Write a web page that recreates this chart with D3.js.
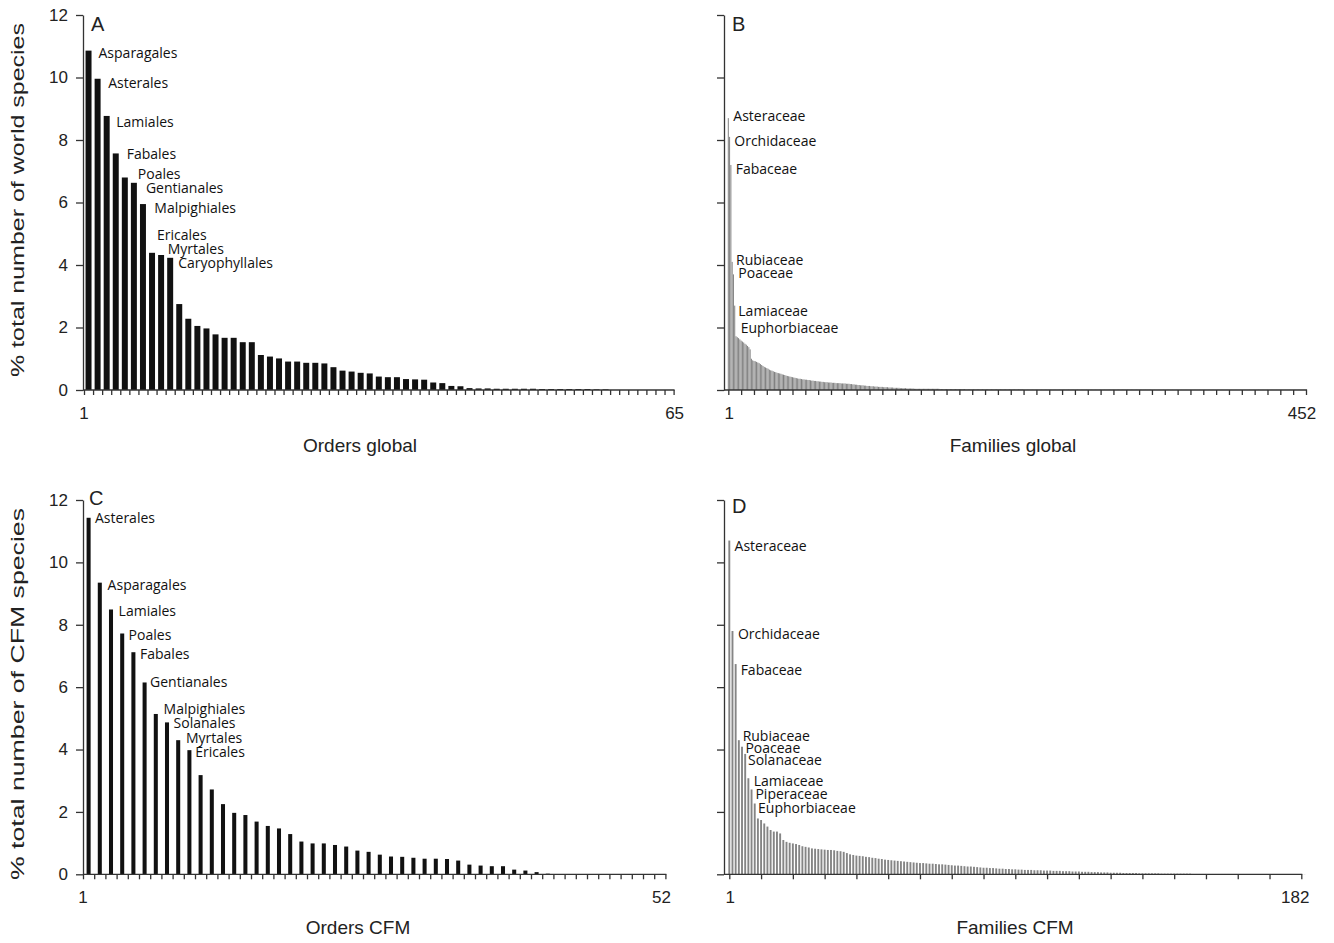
<!DOCTYPE html>
<html>
<head>
<meta charset="utf-8">
<script src="https://cdn.jsdelivr.net/npm/d3@7/dist/d3.min.js"></script>
<style>
  body { margin: 0; background: #fff; }
  svg text { font-family: "Liberation Sans", Arial, sans-serif; fill: #222; }
  svg text.lab { font-family: "Open Sans", sans-serif; font-size: 14px; fill: #111; }
  .axis path, .axis line { stroke: #333; stroke-width: 1.3; }
</style>
</head>
<body>
<svg id="chart" width="1334" height="943"></svg>
<script>
// ---- data ----
var yTicks = [0, 2, 4, 6, 8, 10, 12];

// A: orders, % of world species
var ordersGlobalNames = ["Asparagales", "Asterales", "Lamiales", "Fabales", "Poales",
  "Gentianales", "Malpighiales", "Ericales", "Myrtales", "Caryophyllales"];
var ordersGlobal = [
  10.86, 9.96, 8.77, 7.57, 6.8, 6.63, 5.95, 4.39, 4.32, 4.23,
  2.75, 2.28, 2.05, 1.97, 1.78, 1.67, 1.67, 1.53, 1.53, 1.12,
  1.07, 1.01, 0.91, 0.91, 0.87, 0.87, 0.85, 0.73, 0.62, 0.59,
  0.55, 0.53, 0.43, 0.41, 0.41, 0.35, 0.34, 0.33, 0.24, 0.22,
  0.13, 0.12, 0.06, 0.05, 0.05, 0.04, 0.04, 0.04, 0.04, 0.04,
  0.03, 0.03, 0.03, 0.03, 0.03, 0.03, 0.02, 0.02, 0, 0,
  0, 0, 0, 0, 0];

// B: families, % of world species
var familiesGlobalNames = ["Asteraceae", "Orchidaceae", "Fabaceae", "Rubiaceae", "Poaceae",
  "Lamiaceae", "Euphorbiaceae"];
var familiesGlobal = [
  8.7, 8.1, 7.2, 4.1, 3.7, 2.7, 1.72, 1.69, 1.66, 1.62,
  1.58, 1.55, 1.52, 1.48, 1.45, 1.41, 1.37, 1.3, 1.0, 0.95,
  0.93, 0.92, 0.9, 0.88, 0.86, 0.83, 0.8, 0.77, 0.74, 0.72,
  0.7, 0.68, 0.65, 0.63, 0.62, 0.6, 0.58, 0.57, 0.55, 0.54,
  0.53, 0.52, 0.5, 0.49, 0.48, 0.46, 0.45, 0.44, 0.43, 0.42,
  0.41, 0.4, 0.39, 0.38, 0.37, 0.36, 0.36, 0.35, 0.34, 0.34,
  0.33, 0.33, 0.32, 0.32, 0.31, 0.3, 0.3, 0.29, 0.29, 0.28,
  0.28, 0.27, 0.27, 0.26, 0.26, 0.25, 0.25, 0.25, 0.24, 0.24,
  0.24, 0.23, 0.23, 0.23, 0.22, 0.22, 0.22, 0.22, 0.21, 0.21,
  0.21, 0.21, 0.2, 0.2, 0.2, 0.19, 0.19, 0.18, 0.18, 0.17,
  0.17, 0.16, 0.16, 0.15, 0.15, 0.15, 0.14, 0.14, 0.13, 0.13,
  0.13, 0.12, 0.12, 0.12, 0.11, 0.11, 0.11, 0.1, 0.1, 0.1,
  0.1, 0.09, 0.09, 0.09, 0.09, 0.08, 0.08, 0.08, 0.08, 0.07,
  0.07, 0.07, 0.07, 0.07, 0.06, 0.06, 0.06, 0.06, 0.06, 0.05,
  0.05, 0.05, 0.05, 0.05, 0.05, 0.04, 0.04, 0.04, 0.04, 0.04,
  0.04, 0.04, 0.04, 0.04, 0.04, 0.04, 0.04, 0.04, 0.04, 0.04,
  0.04, 0.04, 0.04, 0.04, 0.04, 0.03, 0.03, 0.03, 0.03, 0.03,
  0.03, 0.03, 0.03, 0.03, 0.03, 0.03, 0.03, 0.03, 0.03, 0.03,
  0.03, 0.03, 0.03, 0.03, 0.03, 0.02, 0.02, 0.02, 0.02, 0.02,
  0.02, 0.02, 0.02, 0.02, 0.02, 0.02, 0.02, 0.02, 0.02, 0.02,
  0.02, 0.02, 0.02, 0.02, 0.02, 0.02, 0.02, 0.02, 0.02, 0.02,
  0.02, 0.02, 0.02, 0.02, 0.02, 0.02, 0.02, 0.02, 0.02, 0.02,
  0.02, 0.02, 0.02, 0.02, 0.02, 0.02, 0.02, 0.02, 0.02, 0.02,
  0.01, 0.01, 0.01, 0.01, 0.01, 0.01, 0.01, 0.01, 0.01, 0.01,
  0.01, 0.01, 0.01, 0.01, 0.01, 0.01, 0.01, 0.01, 0.01, 0.01,
  0.01, 0.01, 0.01, 0.01, 0.01, 0.01, 0.01, 0.01, 0.01, 0.01,
  0.01, 0.01, 0.01, 0.01, 0.01, 0.01, 0.01, 0.01, 0.01, 0.01,
  0.01, 0.01, 0.01, 0.01, 0.01, 0.01, 0.01, 0.01, 0.01, 0.01,
  0.01, 0.01, 0.01, 0.01, 0.01, 0.01, 0.01, 0.01, 0.01, 0.01,
  0.01, 0.01, 0.01, 0.01, 0.01, 0.01, 0.01, 0.01, 0.01, 0.01,
  0.01, 0.01, 0.01, 0.01, 0.01, 0.01, 0.01, 0.01, 0.01, 0.01,
  0.01, 0.01, 0.01, 0.01, 0.01, 0.01, 0.01, 0.01, 0.01, 0.01,
  0.01, 0.01, 0.01, 0.01, 0.01, 0.01, 0.01, 0.01, 0.01, 0.01,
  0.005, 0.005, 0.005, 0.005, 0.005, 0.005, 0.005, 0.005, 0.005, 0.005,
  0.005, 0.005, 0.005, 0.005, 0.005, 0.005, 0.005, 0.005, 0.005, 0.005,
  0.005, 0.005, 0.005, 0.005, 0.005, 0.005, 0.005, 0.005, 0.005, 0.005,
  0.005, 0.005, 0.005, 0.005, 0.005, 0.005, 0.005, 0.005, 0.005, 0.005,
  0.005, 0.005, 0.005, 0.005, 0.005, 0.005, 0.005, 0.005, 0.005, 0.005,
  0.005, 0.005, 0.005, 0.005, 0.005, 0.005, 0.005, 0.005, 0.005, 0.005,
  0.005, 0.005, 0.005, 0.005, 0.005, 0.005, 0.005, 0.005, 0.005, 0.005,
  0.005, 0.005, 0.005, 0.005, 0.005, 0.005, 0.005, 0.005, 0.005, 0.005,
  0.005, 0.005, 0.005, 0.005, 0.005, 0.005, 0.005, 0.005, 0.005, 0.005,
  0.005, 0.005, 0.005, 0.005, 0.005, 0.005, 0.005, 0.005, 0.005, 0.005,
  0.005, 0.005, 0.005, 0.005, 0.005, 0.005, 0.005, 0.005, 0.005, 0.005,
  0.005, 0.005, 0.005, 0.005, 0.005, 0.005, 0.005, 0.005, 0.005, 0.005,
  0.005, 0.005];

// C: orders, % of CFM species
var ordersCfmNames = ["Asterales", "Asparagales", "Lamiales", "Poales", "Fabales",
  "Gentianales", "Malpighiales", "Solanales", "Myrtales", "Ericales"];
var ordersCfm = [
  11.43, 9.35, 8.49, 7.72, 7.12, 6.15, 5.14, 4.87, 4.3, 3.98,
  3.18, 2.72, 2.25, 1.97, 1.9, 1.69, 1.55, 1.47, 1.29, 1.05,
  0.99, 0.99, 0.94, 0.89, 0.76, 0.72, 0.63, 0.57, 0.56, 0.53,
  0.5, 0.5, 0.49, 0.44, 0.31, 0.28, 0.26, 0.26, 0.15, 0.12,
  0.07, 0.02, 0, 0, 0, 0, 0, 0, 0, 0,
  0, 0];

// D: families, % of CFM species
var familiesCfmNames = ["Asteraceae", "Orchidaceae", "Fabaceae", "Rubiaceae", "Poaceae",
  "Solanaceae", "Lamiaceae", "Piperaceae", "Euphorbiaceae"];
var familiesCfm = [
  10.7, 7.8, 6.74, 4.3, 4.09, 3.86, 3.08, 2.72, 2.27, 1.79,
  1.74, 1.63, 1.53, 1.42, 1.37, 1.37, 1.31, 1.1, 1.04, 1.01,
  0.99, 0.97, 0.94, 0.9, 0.88, 0.86, 0.83, 0.82, 0.81, 0.8,
  0.79, 0.78, 0.78, 0.77, 0.75, 0.74, 0.72, 0.68, 0.64, 0.62,
  0.6, 0.59, 0.58, 0.56, 0.55, 0.53, 0.52, 0.5, 0.49, 0.47,
  0.46, 0.45, 0.44, 0.43, 0.42, 0.41, 0.4, 0.39, 0.38, 0.37,
  0.36, 0.36, 0.35, 0.34, 0.34, 0.33, 0.32, 0.32, 0.31, 0.3,
  0.29, 0.28, 0.28, 0.27, 0.26, 0.25, 0.25, 0.24, 0.23, 0.22,
  0.21, 0.21, 0.2, 0.2, 0.19, 0.18, 0.18, 0.17, 0.17, 0.16,
  0.16, 0.15, 0.15, 0.14, 0.14, 0.14, 0.13, 0.13, 0.13, 0.12,
  0.12, 0.12, 0.11, 0.11, 0.11, 0.1, 0.1, 0.1, 0.09, 0.09,
  0.09, 0.08, 0.08, 0.08, 0.07, 0.07, 0.07, 0.06, 0.06, 0.06,
  0.05, 0.05, 0.05, 0.05, 0.04, 0.04, 0.04, 0.04, 0.04, 0.03,
  0.03, 0.03, 0.03, 0.03, 0.03, 0.03, 0.02, 0.02, 0.02, 0.02,
  0.02, 0.02, 0.02, 0.02, 0.02, 0.02, 0.01, 0.01, 0.01, 0.01,
  0.01, 0.01, 0.01, 0.01, 0.01, 0.01, 0.01, 0.01, 0.01, 0.01,
  0.005, 0.005, 0.005, 0.005, 0.005, 0.005, 0.005, 0.005, 0.005, 0.005,
  0.005, 0.005, 0.005, 0.005, 0.005, 0.005, 0.005, 0.005, 0.005, 0.005,
  0.005, 0.005];

// ---- layout ----
var svg = d3.select("#chart");

var panels = [
  { letter: "A", values: ordersGlobal, names: ordersGlobalNames, kind: "band",
    axisX: 83, x0: 84, x1: 673.6, yTop: 15, yBot: 390, pad: 0.34, fill: "#111",
    yLabels: true, lastLabel: "65", lastDx: 1, title: "Orders global", titleX: 360, titleY: 452,
    letterX: 91, letterY: 31,
    dx: [7, 7.6, 6.6, 8, 10, 9, 8.4, 2, 3.6, 5],
    dy: [2.3, 4, 6, 1, -3, 5.6, 4.3, -17.7, -5.7, 5] },
  { letter: "B", values: familiesGlobal, names: familiesGlobalNames, kind: "linear",
    axisX: 724, x0: 728.3, x1: 1306, tickEnd: 451, yTop: 15, yBot: 390, barW: 1, fill: "#808080",
    yLabels: false, lastLabel: "452", lastDx: -4, title: "Families global", titleX: 1013, titleY: 452,
    letterX: 732, letterY: 31,
    dx: [5, 4.7, 4.8, 3.9, 4.9, 3.6, 4.7],
    dy: [-1.6, 4, 3.7, -1.7, -1.7, 5.3, -8] },
  { letter: "C", values: ordersCfm, names: ordersCfmNames, kind: "band",
    axisX: 83, x0: 83, x1: 665.4, yTop: 500, yBot: 874.3, pad: 0.64, fill: "#111",
    yLabels: true, lastLabel: "52", lastDx: -4, title: "Orders CFM", titleX: 358, titleY: 934,
    letterX: 89, letterY: 505,
    dx: [4.4, 5.8, 5.6, 4.4, 4.6, 3.4, 5.8, 4.6, 5.8, 3.9],
    dy: [0, 2.3, 1.4, 1.7, 1.7, 0, -4.7, 1, -1.7, 1.7] },
  { letter: "D", values: familiesCfm, names: familiesCfmNames, kind: "linear",
    axisX: 724, x0: 729.3, x1: 1301.3, tickEnd: 181, yTop: 500, yBot: 874.3, barW: 1.9, fill: "#858585",
    yLabels: false, lastLabel: "182", lastDx: -6, title: "Families CFM", titleX: 1015, titleY: 934,
    letterX: 732, letterY: 513,
    dx: [5.3, 5.4, 5, 3.8, 3.4, 2.8, 5.4, 3.9, 3.3],
    dy: [5.7, 2.6, 6, -4, 1.6, 6, 2.7, 5, 5] }
];

panels.forEach(function(p) {
  var g = svg.append("g");
  var n = p.values.length;
  var y = d3.scaleLinear().domain([0, 12]).range([p.yBot, p.yTop]);
  var x, barX, barW, xTick, tickVals;

  if (p.kind === "band") {
    x = d3.scaleBand().domain(d3.range(1, n + 1)).range([p.x0, p.x1])
      .paddingInner(p.pad).paddingOuter(p.pad / 2);
    barW = x.bandwidth();
    barX = function(d, i) { return x(i + 1); };
    xTick = d3.scaleLinear().domain([0, n]).range([p.x0, p.x1]);
    tickVals = d3.range(0, n + 1);
  } else {
    x = d3.scaleLinear().domain([1, p.tickEnd]).range([p.x0, p.x1]);
    barW = p.barW;
    barX = function(d, i) { return x(i + 1) - barW / 2; };
    xTick = x;
    tickVals = d3.range(1, p.tickEnd + 1, 10);
  }

  // bars
  g.selectAll(".bar").data(p.values).enter().append("rect")
    .attr("class", "bar")
    .attr("x", barX)
    .attr("y", function(d) { return y(d); })
    .attr("width", barW)
    .attr("height", function(d) { return y(0) - y(d); })
    .attr("fill", p.fill);

  // y axis
  var yAxis = d3.axisLeft(y).tickValues(yTicks).tickSize(7).tickSizeOuter(0).tickPadding(8)
    .tickFormat(p.yLabels ? d3.format("d") : "");
  var ya = g.append("g").attr("class", "axis")
    .attr("transform", "translate(" + p.axisX + ",0)").call(yAxis);
  ya.selectAll("text").style("font-size", "17px").attr("font-family", null);

  // x axis
  g.append("line").attr("class", "axisline")
    .attr("x1", p.axisX).attr("x2", p.x1 + 1)
    .attr("y1", p.yBot).attr("y2", p.yBot)
    .attr("stroke", "#333").attr("stroke-width", 1.3);
  var xa = g.append("g").attr("class", "axis")
    .attr("transform", "translate(0," + p.yBot + ")")
    .call(d3.axisBottom(xTick).tickValues(tickVals).tickSize(5).tickFormat(""));
  xa.select(".domain").remove();

  // end labels of x axis
  g.append("text").attr("x", p.kind === "band" ? p.x0 : x(1) + 1).attr("y", p.yBot + 29)
    .attr("text-anchor", "middle").style("font-size", "17px").text("1");
  g.append("text").attr("x", p.x1 + p.lastDx).attr("y", p.yBot + 29)
    .attr("text-anchor", "middle").style("font-size", "17px").text(p.lastLabel);

  // axis title
  g.append("text").attr("x", p.titleX).attr("y", p.titleY)
    .attr("text-anchor", "middle").style("font-size", "19px").text(p.title);

  // panel letter
  g.append("text").attr("x", p.letterX).attr("y", p.letterY)
    .style("font-size", "20px").text(p.letter);

  // annotations for the largest groups
  g.selectAll(".lab").data(p.names).enter().append("text")
    .attr("class", "lab")
    .attr("x", function(d, i) {
      return p.kind === "band" ? x(i + 1) + barW + p.dx[i] : x(i + 1) + p.dx[i];
    })
    .attr("y", function(d, i) { return y(p.values[i]) + p.dy[i]; })
    .attr("dy", "0.35em")
    .text(function(d) { return d; });
});

// y axis titles (the source figure is stretched vertically)
svg.append("text").attr("transform", "translate(24,200) rotate(-90)")
  .attr("text-anchor", "middle").style("font-size", "19px")
  .attr("textLength", 354).attr("lengthAdjust", "spacingAndGlyphs")
  .text("% total number of world species");
svg.append("text").attr("transform", "translate(24,694) rotate(-90)")
  .attr("text-anchor", "middle").style("font-size", "19px")
  .attr("textLength", 372).attr("lengthAdjust", "spacingAndGlyphs")
  .text("% total number of CFM species");
</script>
</body>
</html>
